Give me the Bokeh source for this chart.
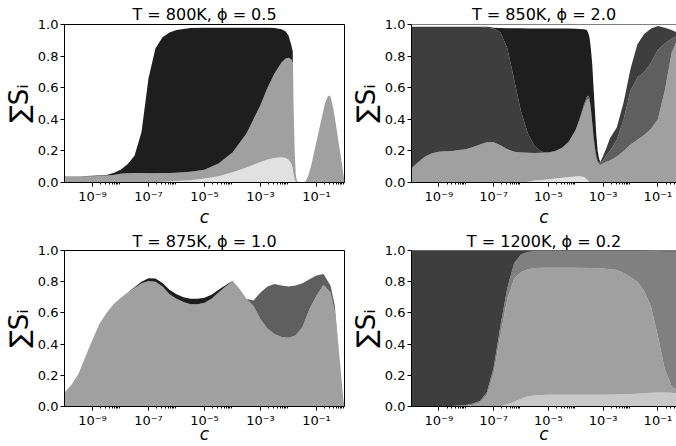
import numpy as np
from bokeh.plotting import figure
from bokeh.models import Range1d, FixedTicker, CustomJSTickFormatter, PrintfTickFormatter, Span
from bokeh.layouts import column, row
from bokeh.embed import file_html
from bokeh.resources import INLINE

# ---------------- data (x given as log10(c); boundaries are stacked tops) -------------
titles = ["T = 800K, ϕ = 0.5", "T = 850K, ϕ = 2.0", "T = 875K, ϕ = 1.0", "T = 1200K, ϕ = 0.2"]
x_label = "c"
y_label = "\u2211S\u1d62"
x_ticks = [1e-9, 1e-7, 1e-5, 1e-3, 1e-1]
y_ticks = [0.0, 0.2, 0.4, 0.6, 0.8, 1.0]

# Panel A: T=800K, phi=0.5
A_logc = [-10, -9.5, -9, -8.5, -8.25, -8, -7.75, -7.5, -7.25, -7,
          -6.75, -6.5, -6.25, -6, -5.5, -5, -4.5, -4, -3.5, -3,
          -2.75, -2.5, -2.25, -2.1, -2.0, -1.9, -1.85, -1.82, -1.78, -1.74,
          -1.7, -1.6, -1.5, -1.4, -1.3, -1.2, -1.1, -1.0, -0.9, -0.8,
          -0.7, -0.6, -0.55, -0.5, -0.4, -0.3, -0.2, -0.1, -0.05, 0]
A_light = [0, 0, 0, 0, 0, 0, 0, 0, 0, 0,
           0.002, 0.004, 0.006, 0.01, 0.015, 0.025, 0.04, 0.065, 0.095, 0.13,
           0.145, 0.155, 0.16, 0.155, 0.145, 0.12, 0.09, 0.05, 0.02, 0.005,
           0, 0, 0, 0, 0, 0, 0, 0, 0, 0,
           0, 0, 0, 0, 0, 0, 0, 0, 0, 0]
A_grey = [0.04, 0.04, 0.04, 0.045, 0.048, 0.055, 0.058, 0.06, 0.06, 0.058,
          0.058, 0.06, 0.06, 0.062, 0.068, 0.08, 0.12, 0.19, 0.31, 0.49,
          0.6, 0.69, 0.76, 0.785, 0.79, 0.78, 0.76, 0.5, 0.2, 0.05,
          0.01, 0, 0, 0.005, 0.04, 0.1, 0.18, 0.26, 0.34, 0.42,
          0.5, 0.545, 0.55, 0.545, 0.47, 0.36, 0.24, 0.13, 0.06, 0.01]
A_black = [0.04, 0.04, 0.042, 0.048, 0.06, 0.08, 0.115, 0.17, 0.32, 0.66,
           0.85, 0.92, 0.95, 0.965, 0.978, 0.98, 0.98, 0.98, 0.98, 0.98,
           0.98, 0.978, 0.97, 0.955, 0.93, 0.87, 0.83, 0.5, 0.2, 0.05,
           0.01, 0, 0, 0.005, 0.04, 0.1, 0.18, 0.26, 0.34, 0.42,
           0.5, 0.545, 0.55, 0.545, 0.47, 0.36, 0.24, 0.13, 0.06, 0.01]

# Panel B: T=850K, phi=2.0
B_logc = [-10, -9.75, -9.5, -9.25, -9, -8.75, -8.5, -8.25, -8, -7.75,
          -7.5, -7.25, -7, -6.75, -6.5, -6.25, -6, -5.75, -5.5, -5.25,
          -5, -4.75, -4.5, -4.25, -4, -3.85, -3.7, -3.6, -3.55, -3.5,
          -3.45, -3.4, -3.35, -3.3, -3.25, -3.2, -3.15, -3.1, -3.0, -2.9,
          -2.75, -2.5, -2.25, -2, -1.75, -1.5, -1.25, -1, -0.75, -0.5, -0.25, 0]
B_light = [0, 0, 0, 0, 0, 0, 0, 0, 0, 0,
           0, 0, 0, 0, 0, 0, 0, 0.005, 0.012, 0.016,
           0.02, 0.025, 0.03, 0.035, 0.038, 0.04, 0.035, 0.02, 0.012, 0.005,
           0, 0, 0, 0, 0, 0, 0, 0, 0, 0,
           0, 0, 0, 0, 0, 0, 0, 0, 0, 0, 0, 0]
B_grey = [0.09, 0.13, 0.165, 0.185, 0.195, 0.198, 0.2, 0.205, 0.21, 0.225,
          0.24, 0.255, 0.255, 0.235, 0.21, 0.195, 0.19, 0.188, 0.187, 0.188,
          0.19, 0.2, 0.22, 0.26, 0.33, 0.4, 0.48, 0.52, 0.53, 0.51,
          0.45, 0.36, 0.27, 0.2, 0.15, 0.125, 0.115, 0.11, 0.12, 0.13,
          0.14, 0.165, 0.2, 0.24, 0.27, 0.3, 0.34, 0.4, 0.58, 0.82, 0.92, 0.94]
B_mid = [0.09, 0.13, 0.165, 0.185, 0.195, 0.198, 0.2, 0.205, 0.21, 0.225,
         0.24, 0.255, 0.255, 0.235, 0.21, 0.195, 0.19, 0.188, 0.187, 0.188,
         0.19, 0.2, 0.22, 0.26, 0.335, 0.41, 0.495, 0.54, 0.55, 0.535,
         0.47, 0.38, 0.29, 0.22, 0.17, 0.14, 0.13, 0.125, 0.14, 0.17,
         0.2, 0.27, 0.4, 0.58, 0.665, 0.7, 0.76, 0.84, 0.88, 0.91, 0.935, 0.945]
B_dark = [0.985, 0.985, 0.985, 0.985, 0.985, 0.985, 0.985, 0.985, 0.985, 0.985,
          0.985, 0.98, 0.975, 0.95, 0.85, 0.65, 0.45, 0.31, 0.23, 0.195,
          0.19, 0.2, 0.22, 0.26, 0.335, 0.41, 0.495, 0.54, 0.55, 0.535,
          0.47, 0.38, 0.29, 0.22, 0.17, 0.14, 0.13, 0.13, 0.17, 0.21,
          0.28, 0.35, 0.51, 0.72, 0.875, 0.94, 0.975, 0.99, 0.98, 0.965, 0.945, 0.95]
B_black = [0.985, 0.985, 0.985, 0.985, 0.985, 0.985, 0.985, 0.985, 0.985, 0.985,
           0.985, 0.985, 0.98, 0.978, 0.977, 0.977, 0.976, 0.975, 0.975, 0.975,
           0.975, 0.975, 0.975, 0.974, 0.973, 0.972, 0.97, 0.965, 0.95, 0.92,
           0.85, 0.75, 0.6, 0.45, 0.3, 0.2, 0.15, 0.13, 0.17, 0.21,
           0.28, 0.35, 0.51, 0.72, 0.875, 0.94, 0.975, 0.99, 0.98, 0.965, 0.945, 0.95]

# Panel C: T=875K, phi=1.0
C_logc = [-10, -9.75, -9.5, -9.25, -9, -8.75, -8.5, -8.25, -8, -7.75,
          -7.5, -7.25, -7, -6.75, -6.5, -6.25, -6, -5.75, -5.5, -5.25,
          -5, -4.75, -4.5, -4.25, -4, -3.75, -3.5, -3.25, -3, -2.75,
          -2.5, -2.25, -2, -1.75, -1.5, -1.25, -1, -0.75, -0.5, -0.35,
          -0.25, -0.15, -0.08, -0.04, 0]
C_grey = [0.09, 0.14, 0.21, 0.32, 0.43, 0.53, 0.6, 0.655, 0.695, 0.73,
          0.76, 0.79, 0.805, 0.8, 0.77, 0.72, 0.69, 0.67, 0.655, 0.655,
          0.665, 0.69, 0.73, 0.77, 0.805, 0.755, 0.69, 0.645, 0.56, 0.5,
          0.465, 0.445, 0.44, 0.455, 0.51, 0.625, 0.71, 0.78, 0.73, 0.61,
          0.43, 0.25, 0.12, 0.04, 0.0]
C_mid = [0.09, 0.14, 0.21, 0.32, 0.43, 0.53, 0.6, 0.655, 0.695, 0.73,
         0.76, 0.79, 0.805, 0.8, 0.77, 0.72, 0.69, 0.67, 0.655, 0.655,
         0.665, 0.69, 0.73, 0.77, 0.805, 0.755, 0.69, 0.68, 0.73, 0.77,
         0.785, 0.775, 0.77, 0.775, 0.79, 0.815, 0.84, 0.85, 0.775, 0.65,
         0.45, 0.26, 0.12, 0.04, 0.0]
C_black = [0.09, 0.14, 0.21, 0.32, 0.43, 0.53, 0.6, 0.655, 0.695, 0.73,
           0.765, 0.8, 0.822, 0.82, 0.792, 0.748, 0.72, 0.70, 0.69, 0.69,
           0.697, 0.717, 0.748, 0.778, 0.806, 0.755, 0.69, 0.68, 0.73, 0.77,
           0.785, 0.775, 0.77, 0.775, 0.79, 0.815, 0.84, 0.85, 0.775, 0.65,
           0.45, 0.26, 0.12, 0.04, 0.0]

# Panel D: T=1200K, phi=0.2
D_logc = [-10, -9, -8.5, -8, -7.75, -7.5, -7.25, -7, -6.75, -6.5,
          -6.25, -6, -5.75, -5.5, -5.25, -5, -4.5, -4, -3.5, -3,
          -2.5, -2.25, -2, -1.75, -1.5, -1.25, -1, -0.75, -0.5, -0.25, 0]
D_light = [0, 0, 0, 0, 0, 0, 0, 0, 0.002, 0.015,
           0.03, 0.05, 0.065, 0.07, 0.073, 0.075, 0.075, 0.075, 0.075, 0.076,
           0.077, 0.078, 0.08, 0.082, 0.085, 0.088, 0.09, 0.09, 0.088, 0.08, 0.075]
D_grey = [0, 0, 0.002, 0.005, 0.01, 0.025, 0.07, 0.21, 0.46, 0.69,
          0.82, 0.86, 0.88, 0.888, 0.89, 0.89, 0.89, 0.89, 0.888, 0.885,
          0.875, 0.855, 0.83, 0.8, 0.74, 0.64, 0.45, 0.24, 0.13, 0.1, 0.09]
D_mid = [0, 0, 0.003, 0.01, 0.02, 0.035, 0.09, 0.25, 0.52, 0.76,
         0.92, 0.975, 0.99, 0.995, 0.997, 0.997, 0.997, 0.997, 0.997, 0.997,
         0.997, 0.997, 0.997, 0.997, 0.996, 0.995, 0.993, 0.99, 0.99, 0.99, 0.99]
D_dark = [1.0, 1.0, 1.0, 1.0, 1.0, 1.0, 1.0, 1.0, 1.0, 1.0,
          1.0, 1.0, 1.0, 1.0, 1.0, 1.0, 1.0, 1.0, 1.0, 1.0,
          1.0, 1.0, 1.0, 1.0, 1.0, 0.998, 0.997, 0.995, 0.995, 0.995, 0.995]

C_BLACK, C_DARK, C_MID, C_GREY80, C_GREY, C_LIGHT, C_VLIGHT = (
    "#1e1e1e", "#3e3e3e", "#5f5f5f", "#808080", "#a0a0a0", "#c8c8c8", "#e1e1e1")

panels = [
    (titles[0], A_logc, [A_light, A_grey, A_black], [C_VLIGHT, C_GREY, C_BLACK]),
    (titles[1], B_logc, [B_light, B_grey, B_mid, B_dark, B_black],
     [C_VLIGHT, C_GREY, C_MID, C_DARK, C_BLACK]),
    (titles[2], C_logc, [C_grey, C_mid, C_black], [C_GREY, C_MID, C_BLACK]),
    (titles[3], D_logc, [D_light, D_grey, D_mid, D_dark], [C_LIGHT, C_GREY, C_GREY80, C_DARK]),
]

FONT = "DejaVu Sans"
SUP = ("const sup = {'-':'\u207b','0':'\u2070','1':'\u00b9','2':'\u00b2','3':'\u00b3',"
       "'4':'\u2074','5':'\u2075','6':'\u2076','7':'\u2077','8':'\u2078','9':'\u2079'};"
       "const e = Math.round(Math.log10(tick));"
       "return '10' + String(e).split('').map(ch => sup[ch]).join('');")


def make_panel(idx, width, height, b_left, b_right, b_top, b_bottom, title_standoff, xlab_standoff):
    title, logc, tops, colors = panels[idx]
    right = b_right == 0
    frame_w = width - b_left - b_right
    x_end = 10 ** (-10 + frame_w / 28.0)
    p = figure(width=width, height=height, x_axis_type="log",
               x_range=Range1d(1e-10, x_end), y_range=Range1d(0, 1),
               output_backend="svg", toolbar_location=None, title=title,
               min_border_left=b_left, min_border_right=b_right,
               min_border_top=b_top, min_border_bottom=b_bottom)
    p.background_fill_color = "white"
    p.border_fill_color = "white"
    p.xgrid.visible = False
    p.ygrid.visible = False

    p.title.text_font = FONT
    p.title.text_font_size = "16px"
    p.title.text_font_style = "normal"
    p.title.text_color = "black"
    p.title.align = "center"
    p.title.standoff = title_standoff
    p.title.offset = 0

    c = 10.0 ** np.array(logc, dtype=float)
    lower = np.zeros(len(c))
    for top, col in zip(tops, colors):
        upper = np.maximum(np.array(top, dtype=float), lower)
        p.varea(x=c, y1=lower, y2=upper, fill_color=col, fill_alpha=1.0)
        lower = upper

    minor = [k * 10.0 ** e for e in (-9, -7, -5, -3, -1) for k in range(2, 10)]
    p.xaxis.ticker = FixedTicker(ticks=x_ticks, minor_ticks=minor)
    p.xaxis.formatter = CustomJSTickFormatter(code=SUP)
    p.yaxis.ticker = FixedTicker(ticks=y_ticks, minor_ticks=[])
    p.yaxis.formatter = PrintfTickFormatter(format="%.1f")
    for ax in (p.xaxis[0], p.yaxis[0]):
        ax.axis_line_color = "black"
        ax.axis_line_width = 1
        ax.major_tick_line_color = "black"
        ax.minor_tick_line_color = "black"
        ax.major_tick_in = 0
        ax.major_tick_out = 4
        ax.minor_tick_in = 0
        ax.minor_tick_out = 2
        ax.major_label_text_font = FONT
        ax.major_label_text_font_size = "13px"
        ax.major_label_text_color = "black"
        ax.major_label_standoff = 2
        ax.axis_label_text_font = FONT
        ax.axis_label_text_color = "black"
    p.yaxis.minor_tick_line_color = None

    p.xaxis.axis_label = x_label
    p.xaxis.axis_label_text_font_size = "17px"
    p.xaxis.axis_label_text_font_style = "italic"
    p.xaxis.axis_label_standoff = xlab_standoff
    p.yaxis.axis_label = y_label
    p.yaxis.axis_label_text_font_size = "26px"
    p.yaxis.axis_label_text_font_style = "normal"
    p.yaxis.axis_label_standoff = 1

    if right:
        p.outline_line_color = None
        p.add_layout(Span(location=1, dimension="width", line_color="black", line_width=1))
    else:
        p.outline_line_color = "black"
        p.outline_line_width = 1
    return p


p1 = make_panel(0, 347, 229, 64, 3, 24, 47, 2, 0)
p2 = make_panel(1, 329, 229, 58, 0, 24, 47, 2, 0)
p3 = make_panel(2, 347, 217, 64, 3, 21, 40, 0, -7)
p4 = make_panel(3, 329, 217, 58, 0, 21, 40, 0, -7)

layout = column(row(p1, p2), row(p3, p4))
open("out.html", "w").write(file_html(layout, INLINE))
